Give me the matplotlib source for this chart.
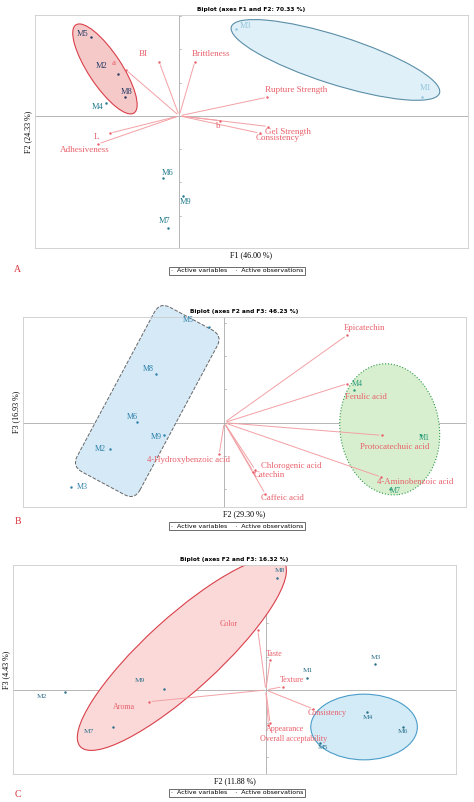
import numpy as np
import matplotlib.pyplot as plt
from matplotlib.patches import Ellipse, FancyBboxPatch
import matplotlib.transforms as mtransforms

plt.rcParams['font.family'] = ['Liberation Serif', 'DejaVu Serif']

VAR_COL = '#e8606a'
ARROW_COL = '#f3a0a4'

# ---- panel A data (F1 / F2) ----
a_obs = ['M5', 'M2', 'M8', 'M4', 'M3', 'M1', 'M6', 'M9', 'M7']
a_obs_x = [-2.66, -1.85, -1.63, -2.20, 1.69, 7.30, -0.48, 0.10, -0.35]
a_obs_y = [2.38, 1.26, 0.56, 0.38, 2.60, 0.56, -1.87, -2.42, -3.37]
a_vars = ['BI', 'Brittleness', 'a', 'Rupture Strength', 'b', 'Gel Strength',
          'Consistency', 'L', 'Adhesiveness']
a_var_x = [-0.60, 0.47, -1.60, 2.64, 1.22, 2.67, 2.42, -2.08, -2.43]
a_var_y = [1.61, 1.63, 1.38, 0.56, -0.14, -0.32, -0.52, -0.52, -0.84]

# ---- panel B data (F2 / F3) ----
b_obs = ['M5', 'M8', 'M6', 'M9', 'M2', 'M3', 'M4', 'M1', 'M7']
b_obs_x = [-0.45, -2.04, -2.62, -1.82, -3.42, -4.59, 3.90, 5.90, 4.98]
b_obs_y = [2.87, 1.45, 0.02, -0.38, -0.80, -1.93, 0.99, -0.38, -1.98]
b_vars = ['Epicatechin', 'Ferulic acid', 'Protocatechuic acid', '4-Aminobenzoic acid',
          '4-Hydroxybenzoic acid', 'Chlorogenic acid', 'Catechin', 'Caffeic acid']
b_var_x = [3.68, 3.70, 4.73, 4.71, -0.15, 0.93, 0.88, 1.23]
b_var_y = [2.62, 1.17, -0.38, -1.63, -0.95, -1.41, -1.48, -2.13]

# ---- panel C data (F2 / F3) ----
c_obs = ['M8', 'M3', 'M1', 'M9', 'M2', 'M7', 'M4', 'M6', 'M5']
c_obs_x = [0.33, 3.28, 1.23, -3.07, -6.02, -4.59, 3.05, 4.11, 1.63]
c_obs_y = [3.37, 0.77, 0.35, 0.03, -0.05, -1.10, -0.65, -1.10, -1.60]
c_vars = ['Color', 'Taste', 'Texture', 'Aroma', 'Consistency', 'Appearance',
          'Overall acceptability']
c_var_x = [-0.24, 0.13, 0.51, -3.50, 1.43, 0.13, 0.08]
c_var_y = [1.80, 0.90, 0.10, -0.35, -0.57, -1.00, -1.05]

# label offsets (points)
a_obs_off = [(-6, 2), (-11.5, 6), (1, 3.4), (-6, -3), (7, 2.4), (2, 6.5), (3, 4), (2, -4), (-2, 5)]
a_var_off = [(-11.5, 6), (12, 5.5), (-9, 5), (20.6, 5.3), (-1, -4), (14.4, -4), (12.7, -3.6),
             (-9.6, -3), (-9.6, -4.3)]
b_obs_off = [(-15, 5), (-5.5, 3.6), (-3.6, 3.6), (-5.5, -1), (-7, 0), (8, 0), (2.4, 4.3),
             (2.4, -2), (3.6, -1.7)]
b_var_off = [(13, 5.3), (13.4, -9.6), (9, -8.4), (24.5, -3.6), (-22, -4), (26, 2.6),
             (11.5, -2.4), (12.7, -3)]
c_obs_off = [(2, 5.5), (0.5, 4.8), (0.5, 5.3), (-17, 5.8), (-17, -3.6), (-17.5, -3.6),
             (0.7, -4), (0.5, -3.6), (1.7, -3)]
c_var_off = [(-21, 4.3), (3, 4.5), (6.5, 4.8), (-18.5, -3.8), (9.6, -2.6), (10.8, -4), (18, -10)]


def biplot(ax, title, xlabel, ylabel, xlim, ylim, obs, ox, oy, ocols, vnames, vx, vy,
           ooff, voff, fs):
    ax.set_xlim(*xlim)
    ax.set_ylim(*ylim)
    ax.axhline(0, color='#aaaaaa', lw=0.6, zorder=1)
    ax.axvline(0, color='#aaaaaa', lw=0.6, zorder=1)
    for t in np.arange(np.ceil(ylim[0]), ylim[1], 1.0):
        ax.plot([0, 0.06], [t, t], color='#aaaaaa', lw=0.5, zorder=1)
    ax.set_xticks([])
    ax.set_yticks([])
    for s in ax.spines.values():
        s.set_color('#cccccc')
        s.set_linewidth(0.6)
    for x, y, n, (dx, dy) in zip(vx, vy, vnames, voff):
        ax.annotate('', xy=(x, y), xytext=(0, 0),
                    arrowprops=dict(arrowstyle='-', color=ARROW_COL, lw=0.7), zorder=3)
        ax.plot(x, y, marker='.', ms=1.5, color=VAR_COL, zorder=4)
        ax.annotate(n, (x, y), xytext=(dx, dy), textcoords='offset points',
                    ha='center', va='center', fontsize=fs, color=VAR_COL, zorder=5)
    for x, y, n, c, (dx, dy) in zip(ox, oy, obs, ocols, ooff):
        ax.plot(x, y, marker='.', ms=1.5, color=c, zorder=4)
        ax.annotate(n, (x, y), xytext=(dx, dy), textcoords='offset points',
                    ha='center', va='center', fontsize=fs - 0.5, color=c, zorder=5)
    ax.set_title(title, fontsize=4.2, fontweight='bold', family='DejaVu Sans', pad=3)
    ax.set_xlabel(xlabel, fontsize=5.8, labelpad=2)
    ax.set_ylabel(ylabel, fontsize=5.8, labelpad=2)


def legend_box(fig, y, letter, ly):
    fig.text(0.5, y, '·  Active variables    ·  Active observations', ha='center', va='center',
             fontsize=4.5, family='DejaVu Sans',
             bbox=dict(boxstyle='square,pad=0.3', fc='white', ec='#555555', lw=0.6))
    fig.text(0.03, ly, letter, color='#d9343c', fontsize=7)


fig = plt.figure(figsize=(4.74, 8.02), dpi=100)
W, H = 474, 802

# panel A
axA = fig.add_axes([35 / W, 1 - 248 / H, 433 / W, 233 / H])
navy, teal, light = '#243a66', '#1f7a8c', '#8fc3dc'
biplot(axA, 'Biplot (axes F1 and F2: 70.33 %)', 'F1 (46.00 %)', 'F2 (24.33 %)',
       (-4.33, 8.67), (-3.97, 3.03), a_obs, a_obs_x, a_obs_y,
       [navy, navy, navy, teal, light, light, teal, teal, teal],
       a_vars, a_var_x, a_var_y, a_obs_off, a_var_off, 6.5)
axA.add_patch(Ellipse((-2.23, 1.41), 3.17, 1.0, angle=-56.6, fc='#f6c9c9', ec='#d9404a',
                      lw=0.8, zorder=2))
axA.add_patch(Ellipse((4.69, 1.68), 6.56, 1.45, angle=-17.7, fc='#dff0f8', ec='#5a8ea8',
                      lw=0.8, zorder=2))
legend_box(fig, 1 - 271 / H, 'A', 1 - 272 / H)

# panel B
axB = fig.add_axes([23 / W, 1 - 507 / H, 443 / W, 190 / H])
bb = '#2a7fa8'
bg = '#2a9a78'
biplot(axB, 'Biplot (axes F2 and F3: 46.23 %)', 'F2 (29.30 %)', 'F3 (16.93 %)',
       (-6.04, 7.26), (-2.53, 3.17), b_obs, b_obs_x, b_obs_y,
       [bb, bb, bb, bb, bb, bb, bg, bg, bg],
       b_vars, b_var_x, b_var_y, b_obs_off, b_var_off, 6.3)
rect = FancyBboxPatch((-2.31 - 2.8, 0.65 - 1.07), 5.6, 2.14,
                      boxstyle='round,pad=0,rounding_size=0.35', fc='#d6e9f7', ec='#666666',
                      lw=0.7, ls='--', zorder=2, clip_on=False)
rect.set_transform(mtransforms.Affine2D().rotate_deg_around(-2.31, 0.65, 61.8) + axB.transData)
axB.add_patch(rect)
axB.add_patch(Ellipse((4.97, -0.20), 2.98, 3.95, angle=8, fc='#d8efcf', ec='#2e9a48',
                      lw=0.8, ls=':', zorder=2))
legend_box(fig, 1 - 526 / H, 'B', 1 - 524 / H)

# panel C
axC = fig.add_axes([13 / W, 1 - 774 / H, 443 / W, 209 / H])
cc = '#2a6f8a'
biplot(axC, 'Biplot (axes F2 and F3: 16.32 %)', 'F2 (11.88 %)', 'F3 (4.43 %)',
       (-7.59, 5.71), (-2.52, 3.75), c_obs, c_obs_x, c_obs_y, [cc] * 9,
       c_vars, c_var_x, c_var_y, c_obs_off, c_var_off, 5.8)
axC.add_patch(Ellipse((-2.52, 1.08), 8.25, 2.2, angle=42.3, fc='#fbd9d9', ec='#d9404a',
                      lw=0.8, zorder=2))
axC.add_patch(Ellipse((2.95, -1.11), 3.2, 1.97, fc='#d3ebf7', ec='#4a9cc8', lw=0.8, zorder=2))
legend_box(fig, 1 - 793 / H, 'C', 1 - 797 / H)

fig.savefig('out.png', dpi=100)
